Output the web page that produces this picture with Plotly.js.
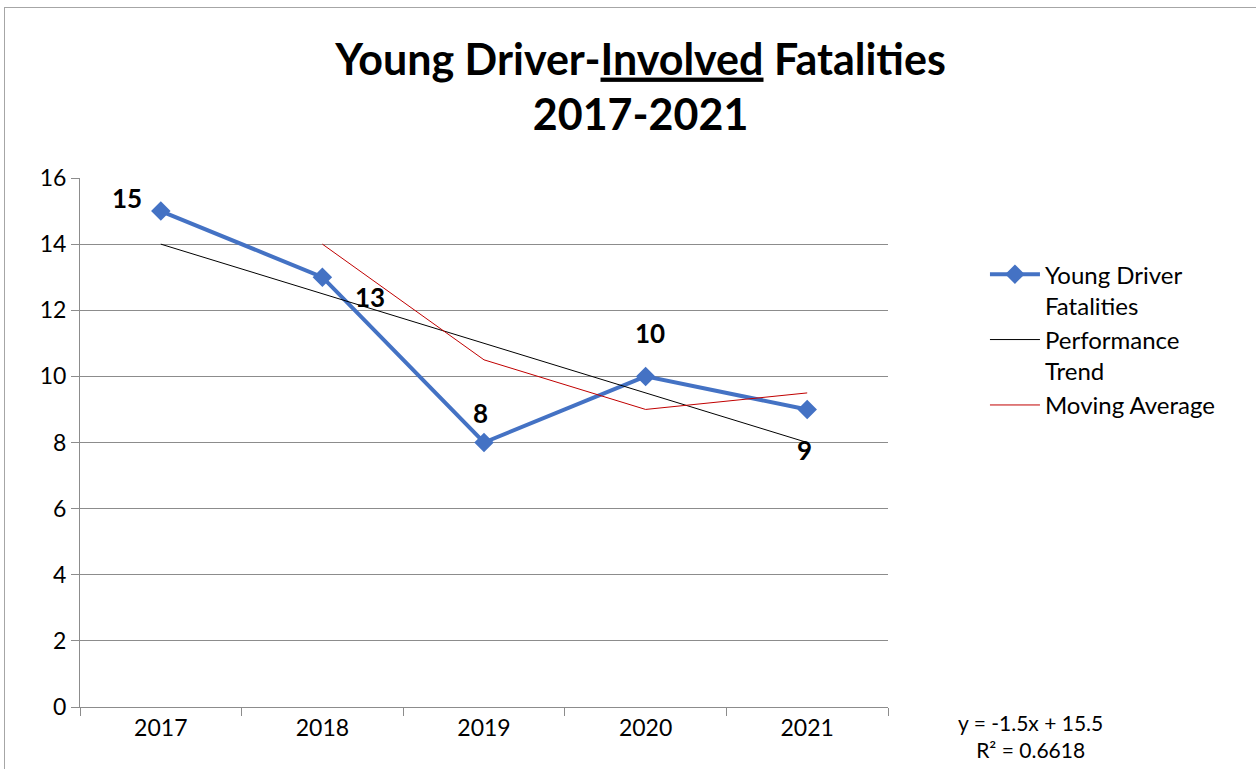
<!DOCTYPE html>
<html>
<head>
<meta charset="utf-8">
<script src="https://cdn.plot.ly/plotly-3.0.1.min.js"></script>
<style>
  html, body { margin:0; padding:0; background:#fff; overflow:hidden; }
  #chart { width:1256px; height:769px; }
  #frame { position:absolute; left:4px; top:7px; width:1300px; height:800px; border:1px solid #a6a6a6; pointer-events:none; }
</style>
</head>
<body>
<div id="chart"></div>
<div id="frame"></div>
<script>
const years = ['2017', '2018', '2019', '2020', '2021'];
const fatalities = [15, 13, 8, 10, 9];
const trend = [14, 12.5, 11, 9.5, 8];
const movingAvg = [null, 14, 10.5, 9, 9.5];
const labelShiftX = [-34, 48, -4, 4, -3];
const labelShiftY = [13, -20, 30, 43, -41];

const FONT = 'Lato, "Open Sans", sans-serif';

const traces = [
  {
    x: years, y: fatalities, type: 'scatter', mode: 'lines+markers',
    name: 'Young Driver<br>Fatalities',
    line: { color: '#4472C4', width: 4 },
    marker: { symbol: 'diamond', size: 15, color: '#4472C4' }
  },
  {
    x: years, y: trend, type: 'scatter', mode: 'lines',
    name: 'Performance<br>Trend',
    line: { color: '#000000', width: 1 }
  },
  {
    x: years, y: movingAvg, type: 'scatter', mode: 'lines',
    name: 'Moving Average',
    line: { color: '#C00000', width: 1 }
  }
];

const annotations = fatalities.map((v, i) => ({
  x: i, y: v, xref: 'x', yref: 'y',
  text: '<b>' + v + '</b>', showarrow: false,
  xanchor: 'center', yanchor: 'middle',
  xshift: labelShiftX[i], yshift: labelShiftY[i],
  font: { family: FONT, size: 26, color: '#000000' }
}));
annotations.push({
  xref: 'paper', yref: 'paper', x: 1.176, y: -0.055, xanchor: 'center', yanchor: 'middle',
  text: 'y = -1.5x + 15.5<br>R² = 0.6618', showarrow: false, align: 'center',
  font: { family: FONT, size: 21, color: '#000000' }
});

const layout = {
  width: 1256, height: 769,
  margin: { l: 80, r: 368, t: 178, b: 62 },
  paper_bgcolor: '#ffffff', plot_bgcolor: '#ffffff',
  font: { family: FONT, color: '#000' },
  title: {
    text: '<b>Young Driver-<u>Involved</u> Fatalities</b><br><b>2017-2021</b>',
    font: { family: FONT, size: 43, color: '#000' },
    x: 0.51, xanchor: 'center', y: 0.903, yanchor: 'top'
  },
  xaxis: {
    type: 'category', range: [-0.5, 4.5],
    showgrid: false, showline: true, linecolor: '#8c8c8c', linewidth: 1,
    ticks: 'outside', tickson: 'boundaries', ticklen: 8, tickcolor: '#8c8c8c',
    tickfont: { family: FONT, size: 23, color: '#000' }, zeroline: false
  },
  yaxis: {
    range: [0, 16], dtick: 2, showgrid: true, gridcolor: '#8c8c8c', gridwidth: 1,
    showline: true, linecolor: '#8c8c8c', linewidth: 1,
    ticks: 'outside', ticklen: 8, tickcolor: '#8c8c8c', zeroline: false,
    tickfont: { family: FONT, size: 23, color: '#000' }
  },
  showlegend: true,
  legend: {
    x: 1.12, xanchor: 'left', y: 0.86, yanchor: 'top',
    font: { family: FONT, size: 24, color: '#000' },
    itemwidth: 50, valign: 'top', tracegroupgap: 0,
    bgcolor: 'rgba(0,0,0,0)'
  },
  annotations: annotations
};

Plotly.newPlot('chart', traces, layout, { displayModeBar: false, staticPlot: true });
</script>
</body>
</html>
